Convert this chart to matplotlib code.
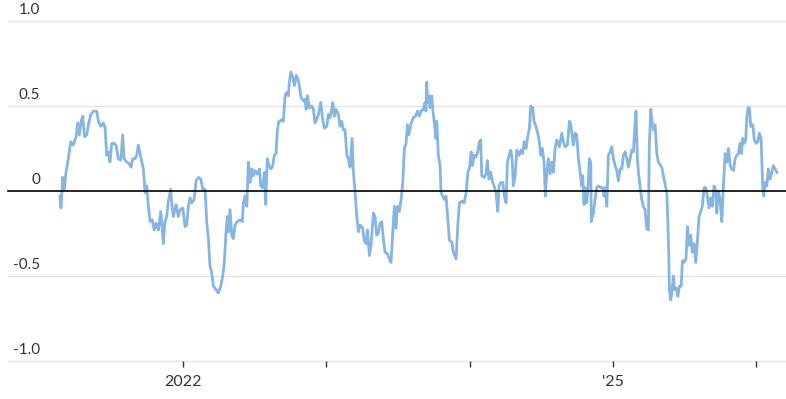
"""
Rolling correlation line chart, 2021-2026, recreated from a reference image.
Writes out.png (786x399).
"""

import matplotlib
matplotlib.use("Agg")
import matplotlib.pyplot as plt
import matplotlib.transforms as mtransforms


# Time as decimal years, value as correlation.
YEARS = [
    2021.141, 2021.148, 2021.160, 2021.171, 2021.183, 2021.199, 2021.216, 2021.234,
    2021.253, 2021.265, 2021.276, 2021.288, 2021.300, 2021.311, 2021.328, 2021.339,
    2021.356, 2021.374, 2021.398, 2021.409, 2021.425, 2021.444, 2021.456, 2021.467,
    2021.479, 2021.490, 2021.502, 2021.518, 2021.532, 2021.548, 2021.565, 2021.579,
    2021.588, 2021.607, 2021.625, 2021.637, 2021.649, 2021.665, 2021.677, 2021.688,
    2021.700, 2021.712, 2021.723, 2021.735, 2021.747, 2021.758, 2021.770, 2021.786,
    2021.798, 2021.812, 2021.828, 2021.844, 2021.853, 2021.862, 2021.874, 2021.886,
    2021.897, 2021.914, 2021.921, 2021.932, 2021.951, 2021.967, 2021.979, 2021.998,
    2022.014, 2022.026, 2022.037, 2022.049, 2022.061, 2022.077, 2022.091, 2022.107,
    2022.124, 2022.138, 2022.154, 2022.165, 2022.177, 2022.188, 2022.200, 2022.212,
    2022.230, 2022.246, 2022.263, 2022.277, 2022.288, 2022.300, 2022.309, 2022.316,
    2022.328, 2022.340, 2022.351, 2022.363, 2022.379, 2022.398, 2022.414, 2022.421,
    2022.433, 2022.445, 2022.456, 2022.468, 2022.480, 2022.491, 2022.503, 2022.519,
    2022.533, 2022.542, 2022.556, 2022.568, 2022.577, 2022.588, 2022.600, 2022.614,
    2022.626, 2022.637, 2022.649, 2022.658, 2022.668, 2022.677, 2022.689, 2022.700,
    2022.712, 2022.724, 2022.735, 2022.742, 2022.752, 2022.766, 2022.777, 2022.791,
    2022.805, 2022.824, 2022.840, 2022.852, 2022.859, 2022.868, 2022.882, 2022.898,
    2022.910, 2022.921, 2022.933, 2022.945, 2022.961, 2022.975, 2022.986, 2023.003,
    2023.014, 2023.026, 2023.038, 2023.045, 2023.056, 2023.068, 2023.084, 2023.096,
    2023.108, 2023.119, 2023.131, 2023.143, 2023.154, 2023.166, 2023.180, 2023.189,
    2023.201, 2023.213, 2023.224, 2023.236, 2023.255, 2023.264, 2023.278, 2023.287,
    2023.301, 2023.312, 2023.329, 2023.340, 2023.352, 2023.363, 2023.375, 2023.387,
    2023.398, 2023.410, 2023.426, 2023.440, 2023.452, 2023.464, 2023.475, 2023.487,
    2023.496, 2023.510, 2023.522, 2023.534, 2023.545, 2023.557, 2023.566, 2023.576,
    2023.590, 2023.606, 2023.623, 2023.636, 2023.650, 2023.661, 2023.678, 2023.689,
    2023.696, 2023.701, 2023.708, 2023.717, 2023.724, 2023.736, 2023.743, 2023.752,
    2023.764, 2023.771, 2023.782, 2023.794, 2023.801, 2023.813, 2023.824, 2023.836,
    2023.845, 2023.859, 2023.876, 2023.887, 2023.906, 2023.918, 2023.929, 2023.946,
    2023.962, 2023.976, 2023.988, 2023.999, 2024.011, 2024.020, 2024.032, 2024.045,
    2024.057, 2024.069, 2024.078, 2024.085, 2024.101, 2024.115, 2024.124, 2024.136,
    2024.148, 2024.162, 2024.171, 2024.185, 2024.197, 2024.206, 2024.218, 2024.232,
    2024.243, 2024.255, 2024.264, 2024.276, 2024.288, 2024.297, 2024.306, 2024.318,
    2024.330, 2024.346, 2024.358, 2024.371, 2024.381, 2024.395, 2024.404, 2024.418,
    2024.427, 2024.441, 2024.450, 2024.464, 2024.478, 2024.487, 2024.497, 2024.508,
    2024.520, 2024.529, 2024.539, 2024.550, 2024.562, 2024.574, 2024.585, 2024.597,
    2024.609, 2024.627, 2024.644, 2024.655, 2024.667, 2024.683, 2024.697, 2024.707,
    2024.718, 2024.725, 2024.737, 2024.748, 2024.760, 2024.772, 2024.783, 2024.790,
    2024.799, 2024.806, 2024.818, 2024.829, 2024.836, 2024.846, 2024.850, 2024.864,
    2024.876, 2024.888, 2024.899, 2024.916, 2024.930, 2024.939, 2024.948, 2024.958,
    2024.969, 2024.981, 2024.993, 2025.004, 2025.016, 2025.028, 2025.039, 2025.051,
    2025.063, 2025.074, 2025.086, 2025.098, 2025.109, 2025.121, 2025.132, 2025.144,
    2025.155, 2025.162, 2025.172, 2025.179, 2025.190, 2025.202, 2025.213, 2025.225,
    2025.237, 2025.248, 2025.255, 2025.265, 2025.274, 2025.283, 2025.295, 2025.307,
    2025.318, 2025.342, 2025.353, 2025.365, 2025.377, 2025.384, 2025.391, 2025.395,
    2025.405, 2025.414, 2025.423, 2025.430, 2025.442, 2025.454, 2025.465, 2025.477,
    2025.486, 2025.498, 2025.511, 2025.521, 2025.532, 2025.544, 2025.555, 2025.567,
    2025.579, 2025.590, 2025.602, 2025.614, 2025.625, 2025.637, 2025.649, 2025.660,
    2025.672, 2025.684, 2025.695, 2025.707, 2025.719, 2025.726, 2025.737, 2025.749,
    2025.761, 2025.772, 2025.784, 2025.796, 2025.807, 2025.819, 2025.830, 2025.842,
    2025.854, 2025.865, 2025.877, 2025.888, 2025.898, 2025.907, 2025.918, 2025.928,
    2025.935, 2025.944, 2025.953, 2025.963, 2025.977, 2025.988, 2026.000, 2026.012,
    2026.023, 2026.035, 2026.047, 2026.054, 2026.063, 2026.075, 2026.086, 2026.098,
    2026.110, 2026.121, 2026.133, 2026.145,
]

CORR = [
    -0.03, -0.10, 0.08, 0.01, 0.11, 0.19, 0.29, 0.27,
    0.32, 0.40, 0.33, 0.41, 0.44, 0.32, 0.33, 0.39,
    0.45, 0.47, 0.47, 0.41, 0.38, 0.40, 0.37, 0.21,
    0.23, 0.17, 0.28, 0.28, 0.27, 0.19, 0.18, 0.33,
    0.19, 0.17, 0.16, 0.14, 0.19, 0.19, 0.21, 0.27,
    0.22, 0.17, 0.13, -0.01, 0.03, -0.09, -0.18, -0.17,
    -0.23, -0.19, -0.23, -0.12, -0.20, -0.31, -0.18, -0.15,
    -0.06, 0.01, -0.07, -0.15, -0.08, -0.15, -0.11, -0.10,
    -0.21, -0.20, -0.09, -0.04, -0.07, -0.05, 0.06, 0.08,
    0.07, 0.01, 0.01, -0.18, -0.28, -0.44, -0.48, -0.56,
    -0.58, -0.60, -0.56, -0.50, -0.42, -0.24, -0.15, -0.24,
    -0.11, -0.26, -0.28, -0.20, -0.18, -0.17, -0.18, -0.07,
    -0.03, -0.09, 0.17, 0.05, 0.13, 0.09, 0.12, 0.10,
    0.13, 0.03, 0.02, 0.11, -0.08, 0.19, 0.15, 0.13,
    0.15, 0.21, 0.22, 0.35, 0.41, 0.41, 0.42, 0.41,
    0.56, 0.58, 0.56, 0.64, 0.70, 0.67, 0.62, 0.68,
    0.65, 0.55, 0.53, 0.54, 0.48, 0.56, 0.49, 0.50,
    0.48, 0.40, 0.42, 0.45, 0.52, 0.42, 0.37, 0.38,
    0.45, 0.43, 0.48, 0.52, 0.44, 0.48, 0.45, 0.38,
    0.41, 0.36, 0.36, 0.21, 0.19, 0.14, 0.31, 0.11,
    -0.01, -0.15, -0.24, -0.20, -0.22, -0.29, -0.31, -0.23,
    -0.38, -0.32, -0.13, -0.15, -0.26, -0.25, -0.19, -0.18,
    -0.28, -0.36, -0.37, -0.40, -0.42, -0.24, -0.09, -0.22,
    -0.09, -0.12, -0.05, 0.05, 0.25, 0.28, 0.39, 0.33,
    0.39, 0.43, 0.44, 0.47, 0.44, 0.47, 0.48, 0.52,
    0.47, 0.64, 0.52, 0.56, 0.49, 0.56, 0.48, 0.42,
    0.31, 0.41, 0.21, 0.15, -0.01, -0.03, -0.05, -0.03,
    -0.13, -0.29, -0.30, -0.36, -0.40, -0.20, -0.07, -0.06,
    -0.07, -0.01, 0.11, 0.13, 0.23, 0.15, 0.21, 0.20,
    0.23, 0.29, 0.30, 0.09, 0.08, 0.10, 0.18, 0.07,
    0.11, 0.05, 0.03, -0.01, -0.12, 0.03, 0.05, 0.05,
    -0.03, -0.07, 0.17, 0.21, 0.24, 0.19, 0.03, 0.09,
    0.24, 0.21, 0.24, 0.22, 0.29, 0.25, 0.31, 0.37,
    0.50, 0.49, 0.41, 0.38, 0.33, 0.29, 0.21, 0.25,
    0.17, -0.03, 0.11, 0.19, 0.10, 0.17, 0.11, 0.25,
    0.30, 0.26, 0.34, 0.29, 0.26, 0.27, 0.41, 0.39,
    0.31, 0.27, 0.34, 0.33, 0.19, 0.11, 0.03, 0.09,
    -0.08, 0.02, -0.07, 0.05, 0.19, 0.17, -0.18, -0.13,
    -0.05, 0.02, 0.03, 0.02, 0.02, -0.03, 0.02, -0.09,
    0.21, 0.23, 0.26, 0.19, 0.15, 0.12, 0.06, 0.13,
    0.13, 0.21, 0.23, 0.19, 0.14, 0.19, 0.24, 0.23,
    0.39, 0.47, 0.19, 0.11, 0.03, -0.05, -0.09, -0.11,
    -0.22, -0.23, 0.27, 0.48, 0.41, 0.36, 0.39, 0.22,
    0.17, 0.14, 0.09, 0.04, -0.01, -0.18, -0.38, -0.58,
    -0.64, -0.58, -0.50, -0.58, -0.57, -0.62, -0.56, -0.56,
    -0.41, -0.42, -0.40, -0.21, -0.32, -0.26, -0.36, -0.31,
    -0.42, -0.30, -0.15, -0.12, -0.09, 0.02, 0.02, -0.03,
    -0.10, -0.04, -0.09, 0.03, 0.00, -0.13, 0.00, -0.05,
    -0.18, 0.03, 0.22, 0.17, 0.25, 0.15, 0.13, 0.12,
    0.19, 0.21, 0.22, 0.28, 0.22, 0.31, 0.28, 0.30,
    0.43, 0.49, 0.49, 0.38, 0.39, 0.30, 0.28, 0.29,
    0.34, 0.31, 0.01, -0.03, 0.05, 0.03, 0.13, 0.07,
    0.11, 0.15, 0.13, 0.11,
]

Y_TICKS = [1.0, 0.5, 0.0, -0.5, -1.0]
Y_LABELS = ["1.0", "0.5", "0", "-0.5", "-1.0"]
X_TICKS = [2022, 2023, 2024, 2025, 2026]
X_LABELS = ["2022", "", "", "'25", ""]

LINE_COLOR = "#84b5e3"
GRID_COLOR = "#e4e4e4"
TEXT_COLOR = "#333333"

plt.rcParams["font.family"] = ["Lato", "DejaVu Sans"]

W, H = 786, 399
fig = plt.figure(figsize=(W / 100, H / 100), dpi=100)
ax = fig.add_axes([8 / W, 1 - 361 / H, (W - 8) / W, (361 - 21) / H])

ax.set_xlim(2020.778, 2026.209)
ax.set_ylim(-1.0, 1.0)

for s in ax.spines.values():
    s.set_visible(False)

# horizontal grid, with a black zero line
for v in Y_TICKS:
    if v == 0:
        ax.axhline(v, color="black", lw=1.2, zorder=3, clip_on=False)
    else:
        ax.axhline(v, color=GRID_COLOR, lw=1.0, zorder=1, clip_on=False)

ax.plot(YEARS, CORR, color=LINE_COLOR, lw=2.0, zorder=2, solid_joinstyle="round")

# y labels sit just above their gridlines, right aligned
trans = mtransforms.blended_transform_factory(ax.transAxes, ax.transData)
offset = mtransforms.ScaledTranslation(0, 4 / 100, fig.dpi_scale_trans)
for v, lab in zip(Y_TICKS, Y_LABELS):
    ax.text((40 - 8) / (W - 8), v, lab, transform=trans + offset,
            ha="right", va="bottom", fontsize=11, color=TEXT_COLOR)
ax.set_yticks([])

ax.set_xticks(X_TICKS)
ax.set_xticklabels(X_LABELS)
ax.tick_params(axis="x", length=4, width=1, color=TEXT_COLOR,
               labelsize=11.5, labelcolor=TEXT_COLOR, pad=6)

fig.savefig("out.png", dpi=100)
